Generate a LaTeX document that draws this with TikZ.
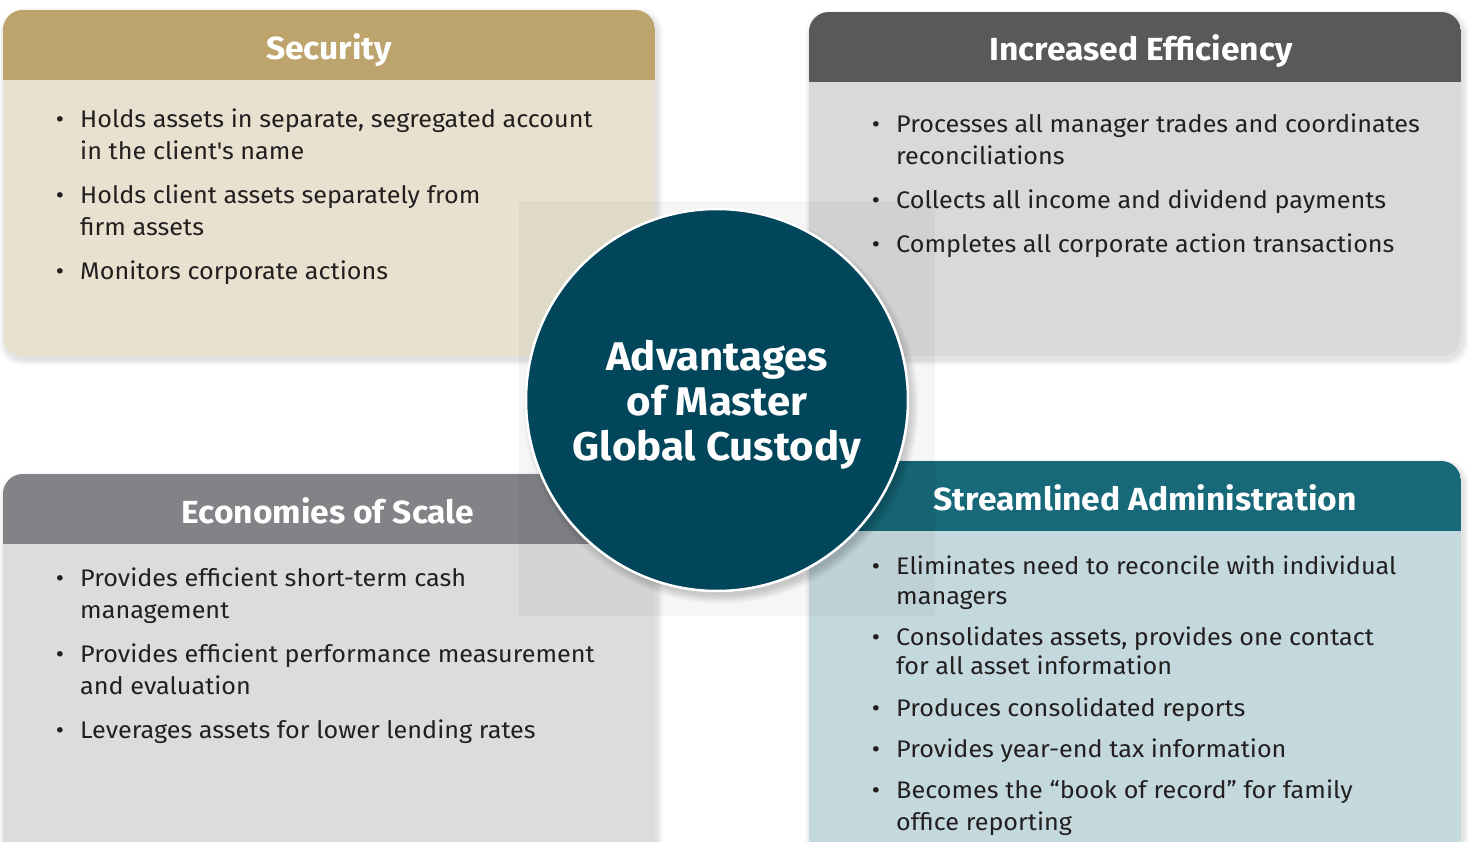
\documentclass[tikz,border=0pt]{standalone}
\usepackage{fontspec}
\setmainfont{Fira Sans}[Ligatures=TeXOff]
\newfontfamily\widefont{Fira Sans}[Ligatures=TeXOff,FakeStretch=1.05]
\definecolor{secH}{HTML}{BDA46C}
\definecolor{secB}{HTML}{E8E1CF}
\definecolor{effH}{HTML}{58595B}
\definecolor{effB}{HTML}{D9D9D9}
\definecolor{ecoH}{HTML}{818386}
\definecolor{ecoB}{HTML}{DBDCDC}
\definecolor{strH}{HTML}{176878}
\definecolor{strB}{HTML}{C4D9DE}
\definecolor{circ}{HTML}{02465B}
\definecolor{txt}{HTML}{231F20}
\newcommand\mypanel[7]{%
  \foreach \k in {1,...,7}{\fill[black,opacity=0.015,rounded corners=22] (#1-\k*0.8+2,#2-\k*0.8+4) rectangle (#3+\k*0.8+2,#4+\k*0.8+4);}
  \begin{scope}
    \clip[rounded corners=20] (#1,#2) rectangle (#3,#4);
    \fill[#7] (#1,#2) rectangle (#3,#4);
    \fill[#6] (#1,#2) rectangle (#3,#5);
  \end{scope}}
\tikzset{
  bul/.style={anchor=base,inner sep=0,font=\widefont\fontsize{24}{28}\selectfont,text=txt},
  itm/.style={anchor=base west,inner sep=0,font=\widefont\fontsize{24}{28}\selectfont,text=txt},
  ttl/.style={anchor=base,inner sep=0,font=\widefont\fontsize{32}{36}\selectfont\bfseries,text=white},
  hubstyle/.style={circle,fill=circ,draw=white,line width=2.5pt,minimum size=382pt,inner sep=0},
  hubtext/.style={align=center,inner sep=0,text=white,font=\widefont\fontsize{40}{45}\selectfont\bfseries}
}
\begin{document}
\begin{tikzpicture}[x=1pt,y=-1pt]
\useasboundingbox (0,0) rectangle (1468,842);
\clip (0,0) rectangle (1468,842);
\fill[white] (0,0) rectangle (1468,842);

% panels
\mypanel{3}{10}{655}{356}{80}{secH}{secB}
\mypanel{809}{12}{1461}{356}{82}{effH}{effB}
\mypanel{3}{474}{655}{860}{544}{ecoH}{ecoB}
\mypanel{809}{461}{1461}{860}{531}{strH}{strB}

% titles
\node[ttl] (tsec) at (329,60) {Security};
\node[ttl] (teff) at (1141,61) {Increased Efficiency};
\node[ttl] (teco) at (328,523) {Economies of Scale};
\node[ttl] (tstr) at (1145,510) {Streamlined Administration};

% Security items
\node[bul] (sb1) at (60,128) {\textbullet};
\node[itm] (s1a) at (80,128) {Holds assets in separate, segregated account};
\node[itm] (s1b) at (80,160) {in the client's name};
\node[bul] (sb2) at (60,204) {\textbullet};
\node[itm] (s2a) at (80,204) {Holds client assets separately from};
\node[itm] (s2b) at (80,236) {firm assets};
\node[bul] (sb3) at (60,280) {\textbullet};
\node[itm] (s3a) at (80,280) {Monitors corporate actions};

% Efficiency items
\node[bul] (eb1) at (876,133) {\textbullet};
\node[itm] (e1a) at (896,133) {Processes all manager trades and coordinates};
\node[itm] (e1b) at (896,165) {reconciliations};
\node[bul] (eb2) at (876,209) {\textbullet};
\node[itm] (e2a) at (896,209) {Collects all income and dividend payments};
\node[bul] (eb3) at (876,253) {\textbullet};
\node[itm] (e3a) at (896,253) {Completes all corporate action transactions};

% Economies items
\node[bul] (cb1) at (60,586) {\textbullet};
\node[itm] (c1a) at (80,586) {Provides efficient short-term cash};
\node[itm] (c1b) at (80,618) {management};
\node[bul] (cb2) at (60,662) {\textbullet};
\node[itm] (c2a) at (80,662) {Provides efficient performance measurement};
\node[itm] (c2b) at (80,694) {and evaluation};
\node[bul] (cb3) at (60,738) {\textbullet};
\node[itm] (c3a) at (80,738) {Leverages assets for lower lending rates};

% Streamlined items
\node[bul] (ab1) at (876,574) {\textbullet};
\node[itm] (a1a) at (896,574) {Eliminates need to reconcile with individual};
\node[itm] (a1b) at (896,604) {managers};
\node[bul] (ab2) at (876,645) {\textbullet};
\node[itm] (a2a) at (896,645) {Consolidates assets, provides one contact};
\node[itm] (a2b) at (896,674) {for all asset information};
\node[bul] (ab3) at (876,716) {\textbullet};
\node[itm] (a3a) at (896,716) {Produces consolidated reports};
\node[bul] (ab4) at (876,757) {\textbullet};
\node[itm] (a4a) at (896,757) {Provides year-end tax information};
\node[bul] (ab5) at (876,798) {\textbullet};
\node[itm] (a5a) at (896,798) {Becomes the “book of record” for family};
\node[itm] (a5b) at (896,830) {office reporting};

% faint square overlay
\fill[black,opacity=0.035] (519,201) rectangle (935,616);

% circle shadow
\foreach \k in {1,...,8}{\fill[black,opacity=0.025] (721,406) circle (188+\k*1.2);}
% hub
\node[hubstyle] (hub) at (717,400) {};
\node[hubtext] (hubt) at (717,405) {Advantages\\of Master\\Global Custody};
\end{tikzpicture}
\end{document}
